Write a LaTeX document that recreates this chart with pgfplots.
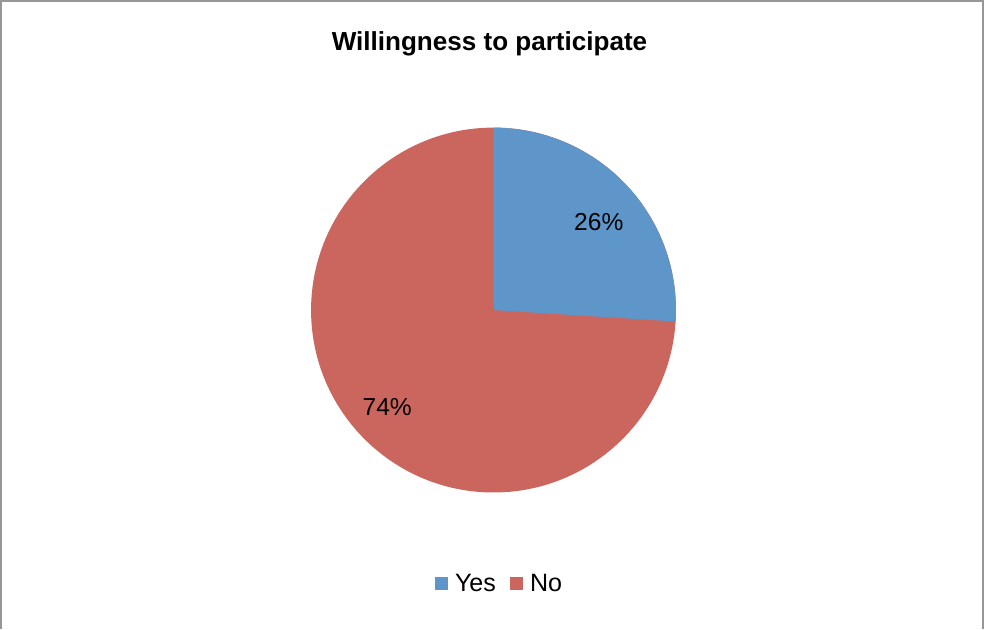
\documentclass[border=0pt]{standalone}
\usepackage{pgfplots}
\pgfplotsset{compat=1.18}
\usepackage{pgfplotstable}
\usepackage{fontspec}
\setmainfont{Liberation Sans}
\definecolor{yescol}{HTML}{5F96C9}
\definecolor{nocol}{HTML}{CB665F}
\definecolor{framecol}{HTML}{979797}
\pgfplotstableread{
label value
Yes 26
No 74
}\piedata
\begin{document}
\begin{tikzpicture}
\pgfplotstablegetelem{0}{value}\of\piedata \let\yesval\pgfplotsretval
\pgfplotstablegetelem{1}{value}\of\piedata \let\noval\pgfplotsretval
\pgfmathsetmacro{\tot}{\yesval+\noval}
\pgfmathsetmacro{\split}{90-\yesval/\tot*360}
\pgfmathsetmacro{\noend}{\split-\noval/\tot*360}
\begin{axis}[
  scale only axis, width=984pt, height=628pt,
  xmin=0, xmax=984, ymin=0, ymax=628,
  hide axis, clip=false,
  legend style={at={(axis cs:499,45)}, anchor=center, draw=none, fill=none,
    legend columns=2, font=\fontsize{25}{29}\selectfont,
    /tikz/every even column/.append style={column sep=12pt}},
  legend image code/.code={\fill[#1] (0pt,-6.5pt) rectangle (13pt,6.5pt); \path (18pt,0pt);},
]
\addlegendimage{fill=yescol, draw=none}
\addlegendentry{Yes}
\addlegendimage{fill=nocol, draw=none}
\addlegendentry{No}
\fill[nocol] (axis cs:493,318) -- (axis cs:493,500) arc[start angle=90, end angle=\noend, radius=182pt] -- cycle;
\fill[yescol] (axis cs:493,318) -- (axis cs:493,500) arc[start angle=90, end angle=\split, radius=182pt] -- cycle;
\node[font=\fontsize{24.5}{28}\selectfont] at (axis cs:598,406) {\yesval\%};
\node[font=\fontsize{24.5}{28}\selectfont] at (axis cs:387,221) {\noval\%};
\node[font=\bfseries\fontsize{26}{30}\selectfont] at (axis cs:489,584) {Willingness to participate};
\draw[framecol, line width=1.6pt] (axis cs:1.5,0) -- (axis cs:1.5,626.5) -- (axis cs:981.5,626.5) -- (axis cs:981.5,0);
\end{axis}
\end{tikzpicture}
\end{document}
